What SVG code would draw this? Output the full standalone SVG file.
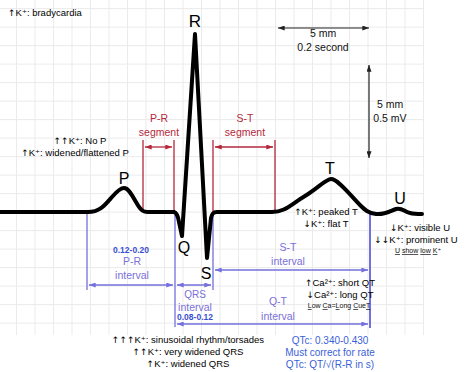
<svg xmlns="http://www.w3.org/2000/svg" width="474" height="372" viewBox="0 0 474 372">
<defs>
<style>
.grid{stroke:#ebebeb;stroke-width:1}
.ecg{fill:none;stroke:#000;stroke-width:4;stroke-linejoin:round;stroke-linecap:round}
.red{stroke:#b5283c;stroke-width:1.3;fill:none}
.blue{stroke:#7470dc;stroke-width:1.3;fill:none}
.blk{stroke:#222;stroke-width:1.2;fill:none}
text{font-family:"Liberation Sans","DejaVu Sans",sans-serif}
.ann{font-size:9.5px;fill:#000;text-anchor:middle}
.a{font-family:"DejaVu Sans",sans-serif;font-size:9px}
.big{font-size:16px;fill:#000;text-anchor:middle}
.rt{font-size:10.5px;fill:#b5283c;text-anchor:middle}
.bt{font-size:10.5px;fill:#7a70d8;text-anchor:middle}
.bn{font-size:8.5px;fill:#3a4fd0;text-anchor:middle;font-weight:bold}
.qtc{font-size:10px;fill:#3a5fd9;text-anchor:middle}
.sc{font-size:10.5px;fill:#111;text-anchor:middle}
.sm{font-size:7px;fill:#111;text-anchor:middle}
.u{text-decoration:underline}
</style>
<marker id="ar" viewBox="0 0 8 6" refX="8" refY="3" markerWidth="7" markerHeight="5" markerUnits="userSpaceOnUse" orient="auto-start-reverse"><path d="M0,0 L8,3 L0,6 z" fill="#b5283c"/></marker>
<marker id="ab" viewBox="0 0 8 6" refX="8" refY="3" markerWidth="7" markerHeight="5" markerUnits="userSpaceOnUse" orient="auto-start-reverse"><path d="M0,0 L8,3 L0,6 z" fill="#7470dc"/></marker>
<marker id="ak" viewBox="0 0 8 6" refX="8" refY="3" markerWidth="7" markerHeight="5" markerUnits="userSpaceOnUse" orient="auto-start-reverse"><path d="M0,0 L8,3 L0,6 z" fill="#222"/></marker>
</defs>
<rect width="474" height="372" fill="#fff"/>
<g id="grid" class="grid">
<path d="M16.5,0V335M35,0V335M53.5,0V335M72,0V335M90.5,0V335M109,0V335M127.5,0V335M146,0V335M164.5,0V335M183,0V335M201.5,0V335M220,0V335M238.5,0V335M257,0V335M275.5,0V335M294,0V335M312.5,0V335M331,0V335M349.5,0V335M368,0V335M386.5,0V335M405,0V335M423.5,0V335"/>
<path d="M0,8.6H424M0,27.1H424M0,45.6H424M0,64.1H424M0,82.6H424M0,101.1H424M0,119.6H424M0,138.1H424M0,156.6H424M0,175.1H424M0,193.6H424M0,212.1H424M0,230.6H424M0,249.1H424M0,267.6H424M0,286.1H424M0,304.6H424M0,323.1H424"/>
</g>
<g id="connectors">
<path class="red" d="M143,140V212M174,140V212M213,140V212M275,140V212"/>
<line class="red" x1="145" y1="147" x2="172" y2="147" marker-start="url(#ar)" marker-end="url(#ar)"/>
<line class="red" x1="215" y1="147" x2="273" y2="147" marker-start="url(#ar)" marker-end="url(#ar)"/>
<path class="blue" d="M87,213V290M175,215V327M213,215V290"/>
<path class="blue" style="stroke-width:2" d="M370,214V328"/>
<line class="blue" x1="89" y1="285" x2="173" y2="285" marker-start="url(#ab)" marker-end="url(#ab)"/>
<line class="blue" x1="177" y1="285" x2="211" y2="285" marker-start="url(#ab)" marker-end="url(#ab)"/>
<line class="blue" x1="215" y1="270" x2="368" y2="270" marker-start="url(#ab)" marker-end="url(#ab)"/>
<line class="blue" x1="177" y1="324" x2="368" y2="324" marker-start="url(#ab)" marker-end="url(#ab)"/>
<line class="blk" x1="278" y1="28" x2="369" y2="28" marker-start="url(#ak)" marker-end="url(#ak)"/>
<line class="blk" x1="369" y1="65" x2="369" y2="158" marker-start="url(#ak)" marker-end="url(#ak)"/>
</g>
<g id="ecg">
<path class="ecg" d="M0,212 L88,212 C100,212 105,205 112,197 C118,190 121,188 124,188 C128,188 131,193 136,202 C140,209 142,212 148,212 L174,212 C177,213 178,216 179,222 L182,236 L195,34 L207,258 L211,218 C212,214 213,212 217,212 L272,212 C285,212 290,205 305,196 C318,188 326,179 331,179 C338,179 350,195 360,205 C365,210 368,213 376,214 C385,215 390,211 396,209 C402,207 404,212 410,213 C414,214 418,214 422,214"/>
</g>
<g id="wave-labels">
<text class="big" x="195" y="27" style="font-size:17px">R</text>
<text class="big" x="124" y="184">P</text>
<text class="big" x="184" y="253">Q</text>
<text class="big" x="206" y="279">S</text>
<text class="big" x="330" y="174">T</text>
<text class="big" x="400" y="204">U</text>
</g>
<g id="pr-segment">
<text class="rt" x="159" y="122">P-R</text>
<text class="rt" x="159" y="136">segment</text>
</g>
<g id="st-segment">
<text class="rt" x="245" y="122">S-T</text>
<text class="rt" x="245" y="136">segment</text>
</g>
<g id="pr-interval">
<text class="bn" x="131" y="253">0.12-0.20</text>
<text class="bt" x="132" y="265">P-R</text>
<text class="bt" x="132" y="279">interval</text>
</g>
<g id="qrs-interval">
<text class="bt" x="195" y="298" style="font-size:10px">QRS</text>
<text class="bt" x="195" y="310.5">interval</text>
<text class="bn" x="195" y="320">0.08-0.12</text>
</g>
<g id="st-interval">
<text class="bt" x="288" y="251">S-T</text>
<text class="bt" x="288" y="265">interval</text>
</g>
<g id="qt-interval">
<text class="bt" x="278" y="305">Q-T</text>
<text class="bt" x="278" y="320">interval</text>
</g>
<g id="scale">
<text class="sc" x="323" y="37">5 mm</text>
<text class="sc" x="323" y="51">0.2 second</text>
<text class="sc" x="390" y="108">5 mm</text>
<text class="sc" x="390" y="122">0.5 mV</text>
</g>
<g id="notes">
<text class="ann" x="8" y="16" style="text-anchor:start"><tspan class="a">↑</tspan>K⁺: bradycardia</text>
<text class="ann" x="80" y="144"><tspan class="a">↑↑</tspan>K⁺: No P</text>
<text class="ann" x="75" y="156"><tspan class="a">↑</tspan>K⁺: widened/flattened P</text>
<text class="ann" x="326" y="215"><tspan class="a">↑</tspan>K⁺: peaked T</text>
<text class="ann" x="326" y="227"><tspan class="a">↓</tspan>K⁺: flat T</text>
<text class="ann" x="420" y="231"><tspan class="a">↓</tspan>K⁺: visible U</text>
<text class="ann" x="416" y="243"><tspan class="a">↓↓</tspan>K⁺: prominent U</text>
<text class="sm" x="418" y="253"><tspan class="u">U</tspan> <tspan class="u">show</tspan> <tspan class="u">low</tspan> <tspan class="u">K</tspan>⁺</text>
<text class="ann" x="340" y="286"><tspan class="a">↑</tspan>Ca²⁺: short QT</text>
<text class="ann" x="340" y="298"><tspan class="a">↓</tspan>Ca²⁺: long QT</text>
<text class="sm" x="339" y="308"><tspan class="u">L</tspan>ow <tspan class="u">C</tspan>a=<tspan class="u">L</tspan>ong <tspan class="u">C</tspan>ue<tspan class="u">T</tspan></text>
<text class="ann" x="188" y="343"><tspan class="a">↑↑↑</tspan>K⁺: sinusoidal rhythm/torsades</text>
<text class="ann" x="188" y="355"><tspan class="a">↑↑</tspan>K⁺: very widened QRS</text>
<text class="ann" x="188" y="367"><tspan class="a">↑</tspan>K⁺: widened QRS</text>
</g>
<g id="qtc">
<text class="qtc" x="330" y="344">QTc: 0.340-0.430</text>
<text class="qtc" x="330" y="356">Must correct for rate</text>
<text class="qtc" x="330" y="368">QTc: QT/√(R-R in s)</text>
</g>
</svg>
